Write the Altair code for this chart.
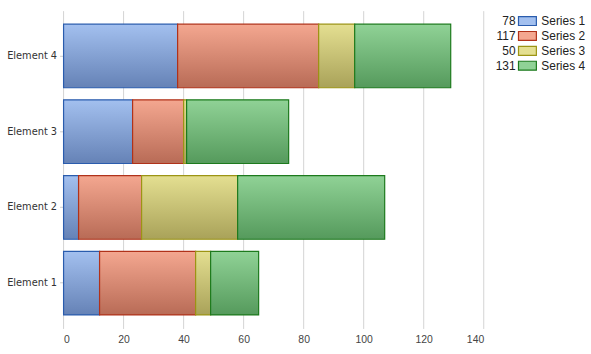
import altair as alt
import pandas as pd

elements = ["Element 1", "Element 2", "Element 3", "Element 4"]
series_names = ["Series 1", "Series 2", "Series 3", "Series 4"]
series1 = [12, 5, 23, 38]
series2 = [32, 21, 17, 47]
series3 = [5, 32, 1, 12]
series4 = [16, 49, 34, 32]
x_ticks = [0, 20, 40, 60, 80, 100, 120, 140]

top_colors = ["#a3c0ef", "#f4a790", "#e4df91", "#90d296"]
bottom_colors = ["#6582b6", "#b86b56", "#a9a259", "#559a5c"]
stroke_colors = ["#2a5cad", "#b0321a", "#9c9414", "#1d7a1d"]

rows = []
for s, vals in zip(series_names, [series1, series2, series3, series4]):
    for e, v in zip(elements, vals):
        rows.append({"element": e, "series": s, "value": v, "order": series_names.index(s)})
df = pd.DataFrame(rows)
grid_df = pd.DataFrame({"tick": x_ticks})

W, H = 423, 305
xscale = alt.Scale(domain=[0, 140], nice=False)
yscale = alt.Scale(domain=elements[::-1], paddingInner=0.16, paddingOuter=0.08)
xaxis = alt.Axis(values=x_ticks, title=None, grid=False)

base = alt.Chart(df)

grid = alt.Chart(grid_df).mark_rule(color="#d4d4d4", strokeWidth=1).encode(
    x=alt.X("tick:Q", scale=xscale, axis=xaxis),
    y=alt.value(-7), y2=alt.value(H + 8))

layers = [grid]
for i, s in enumerate(series_names):
    grad = alt.Gradient(gradient="linear", x1=0, y1=0, x2=0, y2=1,
                        stops=[alt.GradientStop(color=top_colors[i], offset=0),
                               alt.GradientStop(color=bottom_colors[i], offset=1)])
    layer = base.transform_stack(
        stack="value", groupby=["element"], as_=["x0", "x1"],
        sort=[alt.SortField("order", order="ascending")]
    ).transform_filter(alt.datum.series == s).mark_bar(
        fill=grad, stroke=stroke_colors[i], strokeWidth=1.2
    ).encode(
        x=alt.X("x0:Q", scale=xscale, axis=xaxis),
        x2="x1:Q",
        y=alt.Y("element:N", scale=yscale, axis=alt.Axis(title=None)),
    )
    layers.append(layer)

main = alt.layer(*layers)

leg_y = alt.Y("series:N", scale=alt.Scale(domain=series_names, type="point", padding=0, range=[3, 48]), axis=None)
leg_base = alt.Chart(df).transform_aggregate(total="sum(value)", groupby=["series"])
leg_num = leg_base.mark_text(align="right", baseline="middle", font="Liberation Sans",
                             fontSize=12, color="#222222").encode(
    x=alt.value(455), y=leg_y, text="total:Q")
leg_sw = leg_base.mark_rect(strokeWidth=1.2, height=9).encode(
    x=alt.value(458), x2=alt.value(476),
    y=leg_y,
    fill=alt.Fill("series:N", scale=alt.Scale(domain=series_names, range=top_colors), legend=None),
    stroke=alt.Stroke("series:N", scale=alt.Scale(domain=series_names, range=stroke_colors), legend=None),
)
leg_lab = leg_base.mark_text(align="left", baseline="middle", font="Liberation Sans",
                             fontSize=12, color="#222222").encode(
    x=alt.value(481), y=leg_y, text="series:N")

chart = alt.layer(main, leg_num, leg_sw, leg_lab).resolve_scale(
    y="independent"
).properties(width=W, height=H, background="white",
             padding={"left": 6, "top": 9, "right": 5, "bottom": 5}
).configure_view(stroke=None
).configure_axisX(domain=False, ticks=False, grid=False, labelPadding=14,
                  labelFont="Liberation Sans", labelFontSize=10.5, labelColor="#444444"
).configure_axisY(domain=False, ticks=True, tickSize=4, tickColor="#cccccc", grid=False,
                  labelFont="DejaVu Sans Condensed, DejaVu Sans", labelFontSize=11,
                  labelColor="#333333", labelPadding=3)

chart.save("out.html", embed_options={"renderer": "svg", "actions": False})
